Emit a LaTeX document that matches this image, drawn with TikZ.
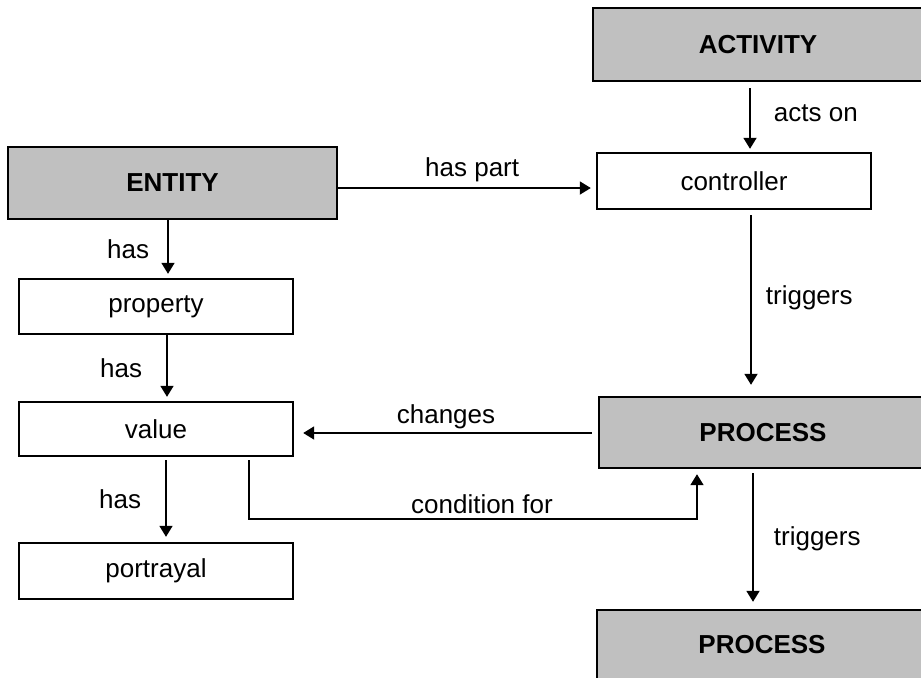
\documentclass[tikz,border=0pt]{standalone}
\usepackage{fontspec}
\setmainfont{Liberation Sans}
\usetikzlibrary{arrows.meta}
\definecolor{gris}{RGB}{192,192,192}

\begin{document}
\begin{tikzpicture}[x=0.5pt,y=-0.5pt,font=\fontsize{13}{15}\selectfont]
\tikzstyle{relation}=[-{Triangle[length=5.5pt,width=6.5pt]},line width=0.9pt]
\tikzset{concept/.style={draw,line width=1.2pt,fill=#1,inner sep=0pt},
concept/.default={white},
etiquette/.style={inner sep=1pt}}
\useasboundingbox (0,0) rectangle (921,677);

\node[concept=gris,minimum width=165pt,minimum height=36.5pt] (act) at (758,44.5) {\textbf{ACTIVITY}};
\node[concept,minimum width=137pt,minimum height=28pt] (ctrl) at (734,181) {controller};
\node[concept=gris,minimum width=164.5pt,minimum height=36pt] (ent) at (172.5,183) {\textbf{ENTITY}};
\node[concept,minimum width=137pt,minimum height=27.5pt] (prop) at (156,306.5) {property};
\node[concept,minimum width=137pt,minimum height=27pt] (val) at (156,429) {value};
\node[concept,minimum width=137pt,minimum height=28pt] (port) at (156,571) {portrayal};
\node[concept=gris,minimum width=164pt,minimum height=35.5pt] (proc1) at (763,432.5) {\textbf{PROCESS}};
\node[concept=gris,minimum width=165pt,minimum height=34.5pt] (proc2) at (762,644.5) {\textbf{PROCESS}};

\draw[relation,shorten <=3pt,shorten >=1.5pt] ([xshift=-4pt]act.south) -- ([xshift=-4pt]act.south |- ctrl.north)
  node[etiquette,pos=0.45,right=10.5pt] {acts on};
\draw[relation,shorten >=2.5pt] ([yshift=-2.5pt]ent.east) -- ([yshift=-2.5pt]ent.east -| ctrl.west)
  node[etiquette,pos=0.52,above=1.75pt] {has part};
\draw[relation,shorten >=2pt] ([xshift=-2.25pt]ent.south) -- ([xshift=-2.25pt]ent.south |- prop.north)
  node[etiquette,midway,left=8pt] {has};
\draw[relation,shorten >=2pt] ([xshift=5.5pt]prop.south) -- ([xshift=5.5pt]prop.south |- val.north)
  node[etiquette,midway,left=11pt] {has};
\draw[relation,shorten <=1.5pt,shorten >=2.5pt] ([xshift=5pt]val.south) -- ([xshift=5pt]val.south |- port.north)
  node[etiquette,midway,left=11pt] {has};
\draw[relation,shorten <=2.5pt,shorten >=5.5pt] ([xshift=8.5pt]ctrl.south) -- ([xshift=8.5pt]ctrl.south |- proc1.north)
  node[etiquette,pos=0.47,right=6pt] {triggers};
\draw[relation,shorten <=3pt,shorten >=4.5pt] ([yshift=-0.25pt]proc1.west) -- ([yshift=-0.25pt]proc1.west -| val.east)
  node[etiquette,midway,above=0.5pt] {changes};
\draw[relation,shorten <=1.5pt,shorten >=2.5pt] ([xshift=46.5pt]val.south) -- ++(0,62) -| ([xshift=-33pt]proc1.south)
  node[etiquette,pos=0.26,above=1.5pt] {condition for};
\draw[relation,shorten <=2pt,shorten >=3.5pt] ([xshift=-5pt]proc1.south) -- ([xshift=-5pt]proc1.south |- proc2.north)
  node[etiquette,midway,right=9pt] {triggers};

\end{tikzpicture}
\end{document}
